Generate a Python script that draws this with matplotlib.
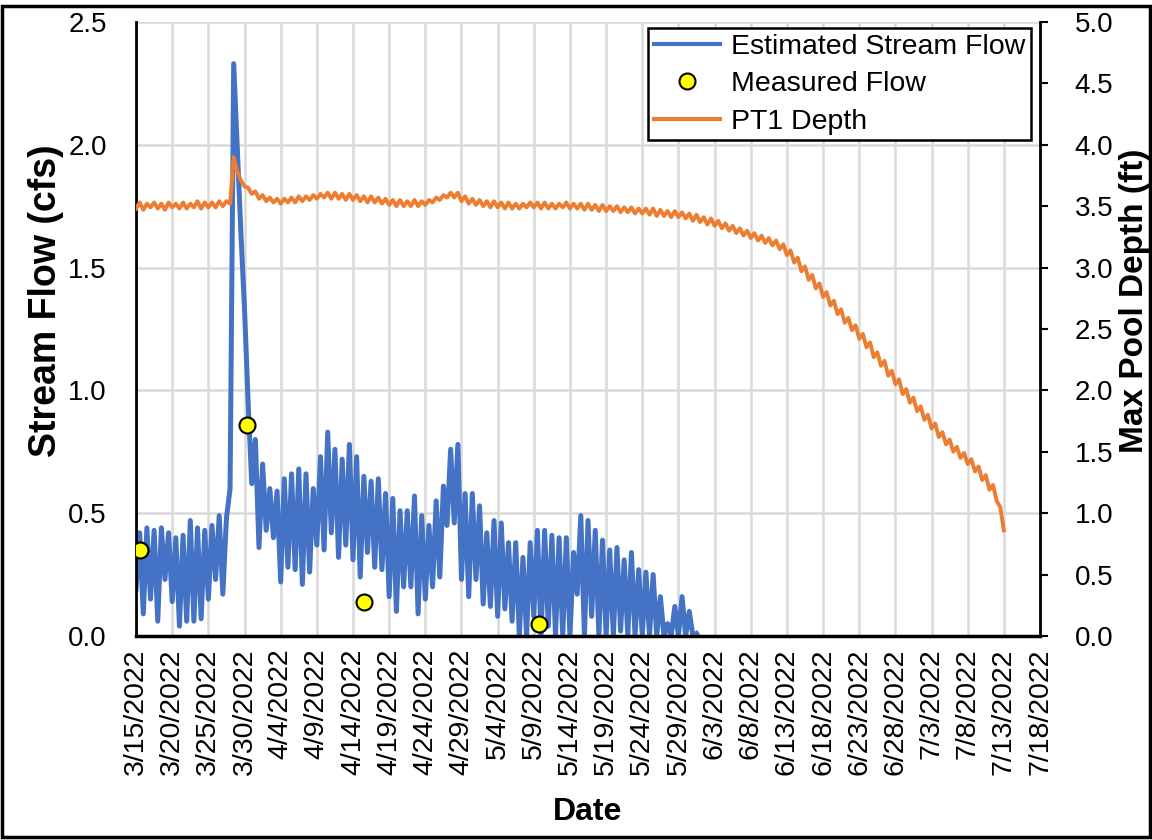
import numpy as np
import matplotlib
matplotlib.use("Agg")
import matplotlib.pyplot as plt
import matplotlib.dates as mdates
from matplotlib.patches import Rectangle
from matplotlib.ticker import FuncFormatter

plt.rcParams["font.family"] = ["Liberation Sans", "DejaVu Sans"]

# estimated stream flow (cfs), two readings per day (00:00, 12:00) from 3/15/2022
flow_start = np.datetime64("2022-03-15T00:00")
flow_cfs = [
    0.19, 0.42, 0.09, 0.44, 0.15, 0.43, 0.06, 0.44, 0.23, 0.42,   # 3/15-3/19
    0.14, 0.40, 0.04, 0.41, 0.06, 0.47, 0.06, 0.44, 0.07, 0.43,   # 3/20-3/24
    0.15, 0.45, 0.23, 0.49, 0.17, 0.48, 0.60, 2.33, 1.98, 1.64,   # 3/25-3/29
    1.33, 0.95, 0.62, 0.80, 0.36, 0.70, 0.43, 0.60, 0.40, 0.59,   # 3/30-4/3
    0.22, 0.64, 0.28, 0.66, 0.27, 0.68, 0.21, 0.66, 0.26, 0.60,   # 4/4-4/8
    0.37, 0.73, 0.35, 0.83, 0.42, 0.76, 0.32, 0.72, 0.37, 0.78,   # 4/9-4/13
    0.31, 0.73, 0.24, 0.65, 0.34, 0.63, 0.28, 0.64, 0.27, 0.58,   # 4/14-4/18
    0.16, 0.56, 0.10, 0.51, 0.20, 0.51, 0.20, 0.57, 0.09, 0.49,   # 4/19-4/23
    0.15, 0.45, 0.20, 0.55, 0.24, 0.61, 0.45, 0.76, 0.46, 0.78,   # 4/24-4/28
    0.23, 0.58, 0.16, 0.58, 0.23, 0.53, 0.13, 0.42, 0.12, 0.47,   # 4/29-5/3
    0.08, 0.46, 0.11, 0.38, 0.06, 0.38, 0.00, 0.32, 0.00, 0.38,   # 5/4-5/8
    0.08, 0.43, 0.00, 0.43, 0.04, 0.41, 0.00, 0.40, 0.00, 0.40,   # 5/9-5/13
    0.00, 0.34, 0.17, 0.49, 0.00, 0.47, 0.08, 0.43, 0.00, 0.39,   # 5/14-5/18
    0.00, 0.35, 0.00, 0.36, 0.02, 0.31, 0.00, 0.34, 0.00, 0.27,   # 5/19-5/23
    0.00, 0.26, 0.00, 0.25, 0.00, 0.16, 0.00, 0.05, 0.00, 0.12,   # 5/24-5/28
    0.00, 0.16, 0.00, 0.10, 0.00, 0.01,                           # 5/29-5/31
]

# PT1 depth (ft), same half-day spacing
depth_start = np.datetime64("2022-03-15T00:00")
depth_ft = [
    3.48, 3.53, 3.47, 3.52, 3.49, 3.53, 3.48, 3.52, 3.47, 3.53,   # 3/15-3/19
    3.49, 3.52, 3.48, 3.53, 3.48, 3.52, 3.49, 3.54, 3.48, 3.53,   # 3/20-3/24
    3.49, 3.53, 3.49, 3.54, 3.50, 3.54, 3.52, 3.90, 3.78, 3.71,   # 3/25-3/29
    3.66, 3.65, 3.60, 3.62, 3.56, 3.59, 3.54, 3.57, 3.53, 3.56,   # 3/30-4/3
    3.52, 3.56, 3.53, 3.57, 3.53, 3.58, 3.54, 3.58, 3.55, 3.59,   # 4/4-4/8
    3.56, 3.60, 3.57, 3.61, 3.56, 3.61, 3.56, 3.60, 3.55, 3.60,   # 4/9-4/13
    3.55, 3.59, 3.54, 3.58, 3.53, 3.58, 3.53, 3.57, 3.52, 3.56,   # 4/14-4/18
    3.51, 3.55, 3.50, 3.55, 3.50, 3.54, 3.50, 3.55, 3.50, 3.54,   # 4/19-4/23
    3.51, 3.55, 3.53, 3.57, 3.55, 3.59, 3.57, 3.61, 3.57, 3.61,   # 4/24-4/28
    3.54, 3.58, 3.52, 3.56, 3.51, 3.55, 3.50, 3.54, 3.49, 3.54,   # 4/29-5/3
    3.49, 3.53, 3.48, 3.53, 3.48, 3.52, 3.48, 3.52, 3.49, 3.53,   # 5/4-5/8
    3.49, 3.53, 3.48, 3.53, 3.48, 3.52, 3.48, 3.52, 3.49, 3.53,   # 5/9-5/13
    3.48, 3.52, 3.48, 3.52, 3.47, 3.52, 3.47, 3.51, 3.46, 3.51,   # 5/14-5/18
    3.46, 3.50, 3.46, 3.50, 3.45, 3.49, 3.45, 3.49, 3.44, 3.48,   # 5/19-5/23
    3.44, 3.48, 3.43, 3.48, 3.42, 3.47, 3.42, 3.46, 3.41, 3.46,   # 5/24-5/28
    3.41, 3.45, 3.40, 3.44, 3.38, 3.43, 3.37, 3.41, 3.35, 3.40,   # 5/29-6/2
    3.34, 3.38, 3.32, 3.36, 3.30, 3.34, 3.28, 3.32, 3.26, 3.30,   # 6/3-6/7
    3.24, 3.28, 3.22, 3.26, 3.20, 3.24, 3.18, 3.22, 3.15, 3.19,   # 6/8-6/12
    3.10, 3.14, 3.04, 3.08, 2.97, 3.01, 2.90, 2.94, 2.83, 2.87,   # 6/13-6/17
    2.76, 2.80, 2.69, 2.73, 2.62, 2.66, 2.55, 2.59, 2.49, 2.53,   # 6/18-6/22
    2.42, 2.46, 2.35, 2.39, 2.27, 2.31, 2.20, 2.24, 2.12, 2.16,   # 6/23-6/27
    2.05, 2.09, 1.97, 2.01, 1.90, 1.94, 1.83, 1.87, 1.76, 1.80,   # 6/28-7/2
    1.69, 1.73, 1.62, 1.66, 1.56, 1.60, 1.50, 1.54, 1.45, 1.49,   # 7/3-7/7
    1.40, 1.44, 1.34, 1.38, 1.27, 1.31, 1.19, 1.23, 1.10, 1.05,   # 7/8-7/12
    0.86,                                                         # 7/13
]

# measured flow
meas_dates = np.array(["2022-03-15T12:00", "2022-03-30T07:00",
                       "2022-04-15T12:00", "2022-05-09T16:00"], dtype="datetime64[m]")
meas_cfs = [0.35, 0.86, 0.14, 0.05]

step = np.timedelta64(12, "h")
flow_t = flow_start + np.arange(len(flow_cfs)) * step
depth_t = depth_start + np.arange(len(depth_ft)) * step

x_min = np.datetime64("2022-03-15")
x_max = np.datetime64("2022-07-18")
x_ticks = np.arange(x_min, x_max + np.timedelta64(1, "D"), np.timedelta64(5, "D"))


def date_label(v, pos):
    d = mdates.num2date(v)
    return f"{d.month}/{d.day}/{d.year}"


fig = plt.figure(figsize=(11.52, 8.4), dpi=100)
ax = fig.add_axes([0.1181, 0.2429, 0.7847, 0.7310])
ax2 = ax.twinx()

grid_c = "#D9D9D9"
ax.set_axisbelow(True)
ax.grid(True, color=grid_c, lw=1.8)

ln1, = ax.plot(flow_t, flow_cfs, color="#4472C4", lw=3.6, zorder=2,
               label="Estimated Stream Flow")
pts, = ax.plot(meas_dates, meas_cfs, ls="none", marker="o", ms=11.5,
               mfc="#FFFF00", mec="black", mew=1.5, zorder=4, label="Measured Flow")
ln2, = ax2.plot(depth_t, depth_ft, color="#ED7D31", lw=2.8, label="PT1 Depth")

ax.set_xlim(x_min, x_max)
ax.set_ylim(0, 2.5)
ax2.set_ylim(0, 5)
ax.set_xticks(x_ticks)
ax.xaxis.set_major_formatter(FuncFormatter(date_label))
ax.set_yticks(np.arange(0, 2.51, 0.5))
ax2.set_yticks(np.arange(0, 5.01, 0.5))
ax.yaxis.set_major_formatter(FuncFormatter(lambda v, p: f"{v:.1f}"))
ax2.yaxis.set_major_formatter(FuncFormatter(lambda v, p: f"{v:.1f}"))

ax.tick_params(axis="x", length=0, labelsize=20.5, rotation=90, pad=9)
ax.tick_params(axis="y", length=0, labelsize=20, pad=21)
ax2.tick_params(axis="y", direction="out", length=6, width=1.5, labelsize=20, pad=19)

for s in ["top", "right"]:
    ax.spines[s].set_visible(False)
for s in ["top", "left", "bottom"]:
    ax2.spines[s].set_visible(False)
ax.spines["left"].set_linewidth(2)
ax.spines["bottom"].set_linewidth(2.5)
ax2.spines["right"].set_linewidth(2)

ax.set_ylabel("Stream Flow (cfs)", fontsize=27, fontweight="bold", va="center")
ax.yaxis.set_label_coords(-0.0996, 0.546)
ax2.set_ylabel("Max Pool Depth (ft)", fontsize=24, fontweight="bold", va="center")
ax2.yaxis.set_label_coords(1.105, 0.546)
ax.set_xlabel("Date", fontsize=23, fontweight="bold", va="center")
ax.xaxis.set_label_coords(0.5, -0.287)

leg = ax2.legend(handles=[ln1, pts, ln2], loc="upper right", bbox_to_anchor=(0.99, 0.99),
                 fontsize=20.5, frameon=True, fancybox=False, framealpha=1,
                 edgecolor="black", handlelength=2.3, labelspacing=0.4,
                 borderpad=0.2, handletextpad=0.4, borderaxespad=0)
leg.get_frame().set_linewidth(1.8)
for h in leg.get_lines():
    h.set_linewidth(3.0)

fig.patches.append(Rectangle((0.002, 0.004), 0.996, 0.989, transform=fig.transFigure,
                             fill=False, lw=2.5, ec="black"))

fig.savefig("out.png", dpi=100)
